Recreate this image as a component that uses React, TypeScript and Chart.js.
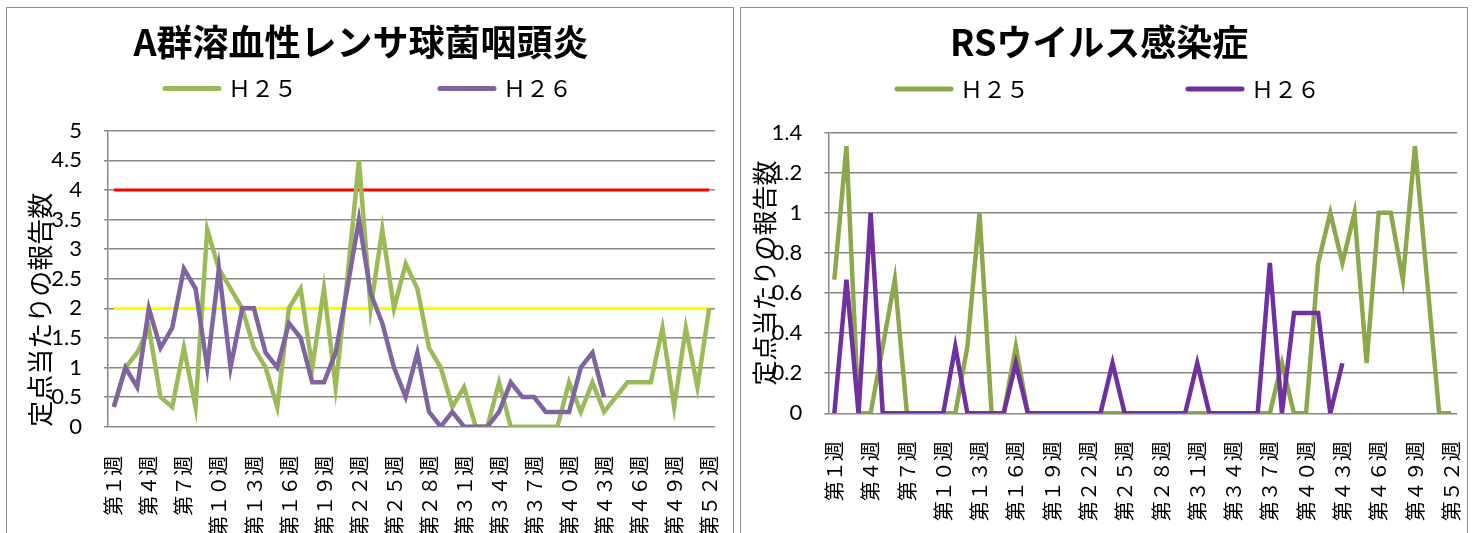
import React, { useEffect, useRef } from "react";
import { Chart, registerables } from "chart.js";

Chart.register(...registerables);

// ---------------- data ----------------
const weeks = [
  "第１週", "第２週", "第３週", "第４週", "第５週", "第６週", "第７週", "第８週", "第９週", "第１０週",
  "第１１週", "第１２週", "第１３週", "第１４週", "第１５週", "第１６週", "第１７週", "第１８週", "第１９週", "第２０週",
  "第２１週", "第２２週", "第２３週", "第２４週", "第２５週", "第２６週", "第２７週", "第２８週", "第２９週", "第３０週",
  "第３１週", "第３２週", "第３３週", "第３４週", "第３５週", "第３６週", "第３７週", "第３８週", "第３９週", "第４０週",
  "第４１週", "第４２週", "第４３週", "第４４週", "第４５週", "第４６週", "第４７週", "第４８週", "第４９週", "第５０週",
  "第５１週", "第５２週",
];

const strepTitle = "A群溶血性レンサ球菌咽頭炎";
const rsvTitle = "RSウイルス感染症";
const yAxisTitle = "定点当たりの報告数";
const seriesNames = ["Ｈ２５", "Ｈ２６"];

const strepH25 = [
  0.333, 1.0, 1.25, 1.667, 0.5, 0.333, 1.333, 0.333, 3.333, 2.667,
  2.333, 2.0, 1.333, 1.0, 0.333, 2.0, 2.333, 1.0, 2.333, 0.667,
  2.5, 4.5, 2.0, 3.333, 2.0, 2.75, 2.333, 1.333, 1.0, 0.333,
  0.667, 0, 0, 0.75, 0, 0, 0, 0, 0, 0.75,
  0.25, 0.75, 0.25, 0.5, 0.75, 0.75, 0.75, 1.667, 0.333, 1.667,
  0.667, 2.0,
];
const strepH26 = [
  0.333, 1.0, 0.667, 2.0, 1.333, 1.667, 2.667, 2.333, 1.0, 2.667,
  1.0, 2.0, 2.0, 1.25, 1.0, 1.75, 1.5, 0.75, 0.75, 1.25,
  2.333, 3.5, 2.25, 1.75, 1.0, 0.5, 1.25, 0.25, 0, 0.25,
  0, 0, 0, 0.25, 0.75, 0.5, 0.5, 0.25, 0.25, 0.25,
  1.0, 1.25, 0.5, null, null, null, null, null, null, null,
  null, null,
];
// 警報レベル / 注意報レベル
const strepWarning = [
  4, 4, 4, 4, 4, 4, 4, 4, 4, 4, 4, 4, 4, 4, 4, 4, 4, 4, 4, 4, 4, 4, 4, 4, 4, 4,
  4, 4, 4, 4, 4, 4, 4, 4, 4, 4, 4, 4, 4, 4, 4, 4, 4, 4, 4, 4, 4, 4, 4, 4, 4, 4,
];
const strepCaution = [
  2, 2, 2, 2, 2, 2, 2, 2, 2, 2, 2, 2, 2, 2, 2, 2, 2, 2, 2, 2, 2, 2, 2, 2, 2, 2,
  2, 2, 2, 2, 2, 2, 2, 2, 2, 2, 2, 2, 2, 2, 2, 2, 2, 2, 2, 2, 2, 2, 2, 2, 2, 2,
];

const rsvH25 = [
  0.667, 1.333, 0, 0, 0.333, 0.667, 0, 0, 0, 0,
  0, 0.333, 1.0, 0, 0, 0.333, 0, 0, 0, 0,
  0, 0, 0, 0, 0, 0, 0, 0, 0, 0,
  0, 0, 0, 0, 0, 0, 0, 0.25, 0, 0,
  0.75, 1.0, 0.75, 1.0, 0.25, 1.0, 1.0, 0.667, 1.333, 0.667,
  0, 0,
];
const rsvH26 = [
  0, 0.667, 0, 1.0, 0, 0, 0, 0, 0, 0,
  0.333, 0, 0, 0, 0, 0.25, 0, 0, 0, 0,
  0, 0, 0, 0.25, 0, 0, 0, 0, 0, 0,
  0.25, 0, 0, 0, 0, 0, 0.75, 0, 0.5, 0.5,
  0.5, 0, 0.25, null, null, null, null, null, null, null,
  null, null,
];

// ---------------- helpers ----------------
const CJK = "'Noto Sans CJK JP', sans-serif";
const NUM = "Lato, 'Open Sans', sans-serif";
const GRID = "#878787";

const lineLegend = {
  id: "lineLegend",
  afterDraw(chart: any, _args: any, opts: any) {
    if (!opts || !opts.items) return;
    const ctx = chart.ctx;
    ctx.save();
    opts.items.forEach((it: any) => {
      const ds = chart.data.datasets[it.index];
      ctx.strokeStyle = ds.borderColor;
      ctx.lineWidth = opts.lineWidth;
      ctx.lineCap = "round";
      ctx.beginPath();
      ctx.moveTo(it.x, opts.y);
      ctx.lineTo(it.x + opts.length, opts.y);
      ctx.stroke();
      ctx.fillStyle = "#000";
      ctx.font = opts.font;
      ctx.textBaseline = "middle";
      ctx.textAlign = "left";
      ctx.fillText(ds.label, it.x + opts.length + opts.gap, opts.y);
    });
    ctx.restore();
  },
};

type Cfg = {
  title: string;
  datasets: any[];
  yMax: number;
  yStep: number;
  yWidth: number;
  xHeight: number;
  padRight: number;
  titlePadBottom: number;
  yTitlePad: number;
  yTitleSize: number;
  yTitleAlign: "start" | "center";
  xPad: number;
  legend: any;
};

function makeOptions(c: Cfg): any {
  return {
    responsive: false,
    maintainAspectRatio: false,
    animation: false,
    layout: { padding: { left: 0, right: c.padRight, top: 0, bottom: 0 } },
    elements: { point: { radius: 0, hoverRadius: 0 }, line: { tension: 0 } },
    plugins: {
      legend: { display: false },
      tooltip: { enabled: false },
      title: {
        display: true,
        text: c.title,
        color: "#000",
        font: { family: CJK, size: 36, weight: "bold" },
        padding: { top: 12.4, bottom: c.titlePadBottom },
      },
      lineLegend: c.legend,
    },
    scales: {
      x: {
        type: "category",
        offset: true,
        grid: { display: false, drawTicks: false },
        border: { display: false },
        ticks: {
          autoSkip: false,
          maxRotation: 90,
          minRotation: 90,
          padding: c.xPad,
          color: "#000",
          font: { family: CJK, size: 20 },
          callback: (_v: any, i: number) => (i % 3 === 0 ? weeks[i] : null),
        },
        afterFit: (s: any) => {
          s.height = c.xHeight;
          s.paddingLeft = 0;
          s.paddingRight = 0;
        },
      },
      y: {
        min: 0,
        max: c.yMax,
        grid: { color: GRID, lineWidth: 1.5, drawTicks: true, tickLength: 4 },
        border: { display: true, color: GRID, width: 1.5 },
        ticks: {
          stepSize: c.yStep,
          padding: 22,
          color: "#000",
          font: { family: NUM, size: 22 },
          callback: (v: any) => String(Math.round(Number(v) * 100) / 100),
        },
        title: {
          display: true,
          text: yAxisTitle,
          color: "#000",
          align: c.yTitleAlign,
          font: { family: CJK, size: c.yTitleSize },
          padding: { top: c.yTitlePad, bottom: 0 },
        },
        afterFit: (s: any) => {
          s.width = c.yWidth;
        },
      },
    },
  };
}

function LineChart({ cfg, left }: { cfg: Cfg; left: number }) {
  const ref = useRef<HTMLCanvasElement | null>(null);
  useEffect(() => {
    if (!ref.current) return;
    const chart = new Chart(ref.current, {
      type: "line",
      data: { labels: weeks, datasets: cfg.datasets },
      options: makeOptions(cfg),
      plugins: [lineLegend as any],
    });
    return () => chart.destroy();
  }, []);
  return (
    <div
      style={{
        position: "absolute",
        left,
        top: 7,
        width: 728,
        height: 540,
        border: "1px solid #8f8f8f",
        boxSizing: "border-box",
        background: "#fff",
      }}
    >
      <canvas
        ref={ref}
        width={726}
        height={525}
        style={{ position: "absolute", left: 0, top: 0, width: 726, height: 525 }}
      />
    </div>
  );
}

const strepCfg: Cfg = {
  title: strepTitle,
  yMax: 5,
  yStep: 0.5,
  yWidth: 101,
  xHeight: 106.3,
  padRight: 18,
  titlePadBottom: 67.1,
  yTitlePad: 18,
  yTitleSize: 26,
  yTitleAlign: "start",
  xPad: 29,
  datasets: [
    { label: seriesNames[0], data: strepH25, borderColor: "#9BBB59", backgroundColor: "#9BBB59", borderWidth: 4.5, order: 1 },
    { label: seriesNames[1], data: strepH26, borderColor: "#8064A2", backgroundColor: "#8064A2", borderWidth: 4.5, order: 0 },
    { label: "警報", data: strepWarning, borderColor: "#FF0000", backgroundColor: "#FF0000", borderWidth: 3, order: 2 },
    { label: "注意報", data: strepCaution, borderColor: "#FFFF00", backgroundColor: "#FFFF00", borderWidth: 3, order: 2 },
  ],
  legend: {
    y: 80.5,
    length: 54,
    lineWidth: 5,
    gap: 9,
    font: `23px ${CJK}`,
    items: [
      { index: 0, x: 158 },
      { index: 1, x: 433 },
    ],
  },
};

const rsvCfg: Cfg = {
  title: rsvTitle,
  yMax: 1.4,
  yStep: 0.2,
  yWidth: 87.3,
  xHeight: 119.7,
  padRight: 9.7,
  titlePadBottom: 69.1,
  yTitlePad: 8,
  yTitleSize: 25,
  yTitleAlign: "center",
  xPad: 28,
  datasets: [
    { label: seriesNames[0], data: rsvH25, borderColor: "#8BA84A", backgroundColor: "#8BA84A", borderWidth: 4.5, order: 1 },
    { label: seriesNames[1], data: rsvH26, borderColor: "#7030A0", backgroundColor: "#7030A0", borderWidth: 4.5, order: 0 },
  ],
  legend: {
    y: 81,
    length: 54,
    lineWidth: 5,
    gap: 9,
    font: `23px ${CJK}`,
    items: [
      { index: 0, x: 156 },
      { index: 1, x: 447 },
    ],
  },
};

export default function App() {
  return (
    <div
      style={{
        position: "absolute",
        left: 0,
        top: 0,
        width: 1478,
        height: 533,
        overflow: "hidden",
        background: "#fff",
      }}
    >
      <LineChart cfg={strepCfg} left={6} />
      <LineChart cfg={rsvCfg} left={740} />
    </div>
  );
}
